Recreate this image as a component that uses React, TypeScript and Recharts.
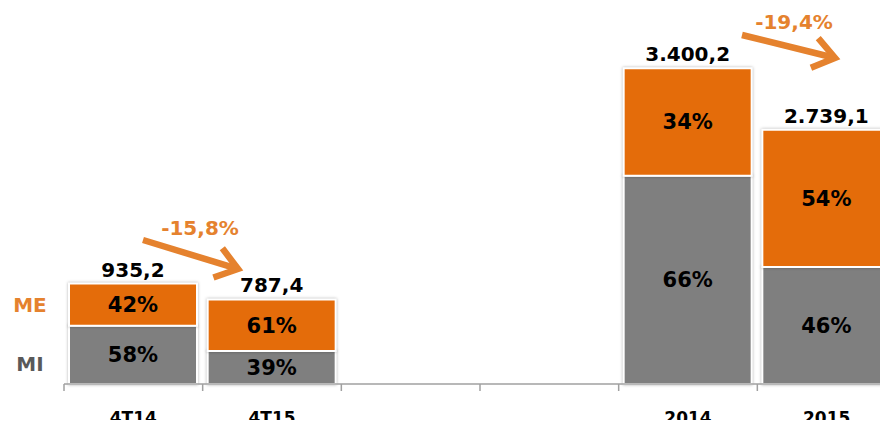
import { BarChart, Bar, XAxis, YAxis, LabelList } from "recharts";

const categories = ["4T14", "4T15", "", "", "2014", "2015"];
const totals = [935.2, 787.4, null, null, 3400.2, 2739.1];
const mePct = [42, 61, null, null, 34, 54];
const miPct = [58, 39, null, null, 66, 46];
// the quarters and the years were drawn on two different scales
const scaleGroup = ["q", "q", null, null, "y", "y"];
const changeLabels = ["-15,8%", "-19,4%"];
const seriesNames = ["ME", "MI"];

const GRAY = "#7F7F7F";
const ORANGE = "#E46C0A";
const ORANGE_TXT = "#E5822E";
const AXIS = "#A0A0A0";
const FONT = "'DejaVu Sans', Verdana, sans-serif";

const W = 888;
const H = 420;
const LEFT = 56;
const TICK_MARGIN = 30;
const band = (W - LEFT) / categories.length;

const fmt = (v: number) => {
  const [i, d] = v.toFixed(1).split(".");
  return i.replace(/\B(?=(\d{3})+(?!\d))/g, ".") + "," + d;
};

const data = categories.map((name, i) => {
  const t = totals[i];
  const row: Record<string, any> = { name };
  for (const k of ["q", "y"]) {
    const on = scaleGroup[i] === k && t != null;
    row["mi_" + k] = on ? (t * (miPct[i] as number)) / 100 : null;
    row["me_" + k] = on ? (t * (mePct[i] as number)) / 100 : null;
    row["miLbl_" + k] = on ? miPct[i] + "%" : null;
    row["meLbl_" + k] = on ? mePct[i] + "%" : null;
    row["tot_" + k] = on ? fmt(t as number) : null;
  }
  return row;
});

function Tick(props: any) {
  const { x, y, payload } = props;
  const top = y - TICK_MARGIN;
  const bx = x - band / 2;
  return (
    <g>
      <line x1={bx} x2={bx} y1={top} y2={top + 7} stroke={AXIS} strokeWidth={1.5} />
      <text x={x} y={top + 40} textAnchor="middle" fill="#000" fontFamily={FONT} fontWeight="bold" fontSize={17}>
        {payload.value}
      </text>
    </g>
  );
}

function Arrow({ x1, y1, x2, y2 }: { x1: number; y1: number; x2: number; y2: number }) {
  const a = Math.atan2(y2 - y1, x2 - x1);
  const len = 26;
  const spread = (36 * Math.PI) / 180;
  const p1 = [x2 - len * Math.cos(a - spread), y2 - len * Math.sin(a - spread)];
  const p2 = [x2 - len * Math.cos(a + spread), y2 - len * Math.sin(a + spread)];
  return (
    <g stroke={ORANGE_TXT} strokeWidth={6.5} fill="none">
      <line x1={x1} y1={y1} x2={x2 - 3 * Math.cos(a)} y2={y2 - 3 * Math.sin(a)} />
      <polyline points={`${p1[0]},${p1[1]} ${x2},${y2} ${p2[0]},${p2[1]}`} strokeLinejoin="miter" />
    </g>
  );
}

const totStyle = { fontFamily: FONT, fontWeight: "bold", fontSize: 20, fill: "#000" } as any;
const pctStyle = { fontFamily: FONT, fontWeight: "bold", fontSize: 21, fill: "#000" } as any;
const shade = { filter: "drop-shadow(0px 0px 1.5px rgba(0,0,0,0.3))" };

export default function App() {
  const bars = (k: string) => [
    <Bar key={"mi" + k} dataKey={"mi_" + k} yAxisId={k} stackId="s" fill={GRAY} stroke="#fff" strokeWidth={2} style={shade} isAnimationActive={false}>
      <LabelList dataKey={"miLbl_" + k} position="center" style={pctStyle} />
    </Bar>,
    <Bar key={"me" + k} dataKey={"me_" + k} yAxisId={k} stackId="s" fill={ORANGE} stroke="#fff" strokeWidth={2} style={shade} isAnimationActive={false}>
      <LabelList dataKey={"meLbl_" + k} position="center" style={pctStyle} />
      <LabelList dataKey={"tot_" + k} position="top" offset={7} style={totStyle} />
    </Bar>,
  ];
  return (
    <div style={{ position: "relative", width: 880, height: H, overflow: "hidden", marginBottom: -8 }}>
      <BarChart width={W} height={H} data={data} margin={{ top: 0, right: 0, bottom: 0, left: LEFT }} barSize={128}>
        <XAxis
          dataKey="name"
          height={44}
          interval={0}
          tickSize={0}
          tickMargin={TICK_MARGIN}
          axisLine={{ stroke: AXIS, strokeWidth: 1.5 }}
          tick={<Tick />}
        />
        <YAxis yAxisId="q" hide domain={[0, 3500]} />
        <YAxis yAxisId="y" hide domain={[0, 4050]} />
        {bars("q")}
        {bars("y")}
      </BarChart>
      <svg width={880} height={H} style={{ position: "absolute", left: 0, top: 0, pointerEvents: "none" }}>
        <text x={22} y={304} textAnchor="middle" fontFamily={FONT} fontWeight="bold" fontSize={20} fill={ORANGE_TXT}>
          {seriesNames[0]}
        </text>
        <text x={22} y={363} textAnchor="middle" fontFamily={FONT} fontWeight="bold" fontSize={20} fill="#595959">
          {seriesNames[1]}
        </text>
        <Arrow x1={135} y1={232} x2={230} y2={261} />
        <text x={192} y={227} textAnchor="middle" fontFamily={FONT} fontWeight="bold" fontSize={20} fill={ORANGE_TXT}>
          {changeLabels[0]}
        </text>
        <Arrow x1={734} y1={27} x2={827} y2={50} />
        <text x={786} y={21} textAnchor="middle" fontFamily={FONT} fontWeight="bold" fontSize={20} fill={ORANGE_TXT}>
          {changeLabels[1]}
        </text>
      </svg>
    </div>
  );
}
